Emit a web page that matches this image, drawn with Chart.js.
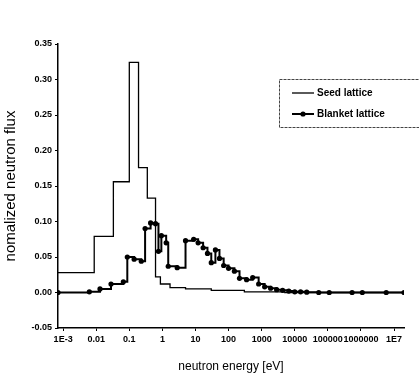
<!DOCTYPE html>
<html lang="en">
<head>
<meta charset="UTF-8" />
<title>Neutron flux spectrum</title>
<script src="https://cdn.jsdelivr.net/npm/chart.js"></script>
<style>
    html, body {
        margin: 0;
        padding: 0;
        background: #fff;
    }
</style>
</head>
<body>

<canvas id="fluxChart" width="419" height="382"></canvas>

<script>
    // energy (eV) where each step starts, and the flux held on that step
    const seedEnergy = [7e-4, 0.0087, 0.033, 0.1, 0.19, 0.35, 0.62, 0.87, 1.7, 5, 30, 300, 5000, 2e7];
    const seedFlux   = [0.028, 0.079, 0.156, 0.324, 0.176, 0.133, 0.022, 0.012, 0.007, 0.005, 0.003, 0.001, 0, 0];

    const blanketEnergy = [7e-4, 0.0062, 0.013, 0.028, 0.066, 0.087, 0.14, 0.23, 0.30, 0.44, 0.62, 0.76, 0.93, 1.3, 1.5,
                           2.8, 5.0, 8.8, 12, 17, 23, 30, 40, 53, 71, 100, 150, 214, 350, 535, 810, 1230, 1860, 2830,
                           4300, 6600, 1e4, 1.5e4, 2.3e4, 5.3e4, 1.1e5, 5.4e5, 1.1e6, 5.8e6, 2e7];
    const blanketFlux   = [0, 0.001, 0.005, 0.012, 0.015, 0.05, 0.047, 0.044, 0.09, 0.098, 0.097, 0.058, 0.08, 0.07, 0.037,
                           0.035, 0.073, 0.075, 0.07, 0.063, 0.055, 0.042, 0.06, 0.048, 0.038, 0.034, 0.03, 0.02, 0.018, 0.021,
                           0.012, 0.008, 0.006, 0.004, 0.003, 0.002, 0.001, 0.001, 0.0005, 0, 0, 0, 0, 0, 0];

    const seriesNames = ['Seed lattice', 'Blanket lattice'];
    const xTickValues = [1e-3, 1e-2, 1e-1, 1, 10, 100, 1e3, 1e4, 1e5, 1e6, 1e7];
    const xTickLabels = ['1E-3', '0.01', '0.1', '1', '10', '100', '1000', '10000', '100000', '1000000', '1E7'];

    const FONT = '"Liberation Sans", Arial, sans-serif';

    function toPoints(xs, ys) {
        return xs.map((x, i) => ({ x: x, y: ys[i] }));
    }

    // boxed legend sitting inside the plot, top right
    const boxLegend = {
        id: 'boxLegend',
        afterDraw(chart) {
            const ctx = chart.ctx;
            ctx.save();
            ctx.strokeStyle = '#444';
            ctx.lineWidth = 1;
            ctx.setLineDash([3, 1]);
            ctx.strokeRect(279.5, 79.5, 150, 48);
            ctx.setLineDash([]);
            chart.data.datasets.forEach((ds, i) => {
                const y = 93 + i * 21;
                ctx.strokeStyle = '#000';
                ctx.fillStyle = '#000';
                ctx.lineWidth = ds.borderWidth;
                ctx.beginPath();
                ctx.moveTo(292, y);
                ctx.lineTo(314, y);
                ctx.stroke();
                if (ds.pointRadius) {
                    ctx.beginPath();
                    ctx.arc(303, y, ds.pointRadius, 0, Math.PI * 2);
                    ctx.fill();
                }
                ctx.font = 'bold 10px ' + FONT;
                ctx.textBaseline = 'middle';
                ctx.fillText(ds.label, 317, y);
            });
            ctx.restore();
        }
    };

    new Chart(document.getElementById('fluxChart'), {
        type: 'line',
        data: {
            datasets: [{
                label: seriesNames[0],
                data: toPoints(seedEnergy, seedFlux),
                stepped: 'before', // chart.js 'before' = value holds until the next point
                borderColor: '#000',
                borderWidth: 1.3,
                pointRadius: 0
            }, {
                label: seriesNames[1],
                data: toPoints(blanketEnergy, blanketFlux),
                stepped: 'before',
                borderColor: '#000',
                borderWidth: 2,
                pointRadius: 2.6,
                pointBackgroundColor: '#000',
                pointBorderColor: '#000',
                pointBorderWidth: 0
            }]
        },
        options: {
            responsive: false,
            animation: false,
            devicePixelRatio: 1,
            layout: { padding: { left: 2, right: 15, top: 44, bottom: 0 } },
            plugins: {
                legend: { display: false },
                tooltip: { enabled: false }
            },
            scales: {
                x: {
                    type: 'logarithmic',
                    min: 7e-4,
                    max: 2e7,
                    afterBuildTicks: s => { s.ticks = xTickValues.map(v => ({ value: v })); },
                    afterFit: s => { s.height = 54; },
                    border: { color: '#000', width: 1.5 },
                    grid: { drawOnChartArea: false, color: '#000', tickLength: 3 },
                    ticks: {
                        color: '#000',
                        font: { family: FONT, size: 9, weight: 'bold' },
                        maxRotation: 0,
                        autoSkip: false,
                        padding: 3,
                        callback: v => {
                            const i = xTickValues.indexOf(v);
                            return i >= 0 ? xTickLabels[i] : '';
                        }
                    },
                    title: {
                        display: true,
                        text: 'neutron energy [eV]',
                        color: '#000',
                        font: { family: FONT, size: 12 },
                        padding: { top: 0, bottom: 8 }
                    }
                },
                y: {
                    min: -0.05,
                    max: 0.35,
                    afterFit: s => { s.width = 56; },
                    border: { color: '#000', width: 1.5 },
                    grid: { drawOnChartArea: false, color: '#000', tickLength: 3 },
                    ticks: {
                        stepSize: 0.05,
                        color: '#000',
                        font: { family: FONT, size: 9, weight: 'bold' },
                        padding: 3,
                        callback: v => (Math.abs(v) < 1e-9 ? 0 : v).toFixed(2)
                    },
                    title: {
                        display: true,
                        text: 'nomalized neutron flux',
                        color: '#000',
                        font: { family: FONT, size: 15 },
                        padding: { top: 0, bottom: 0 }
                    }
                }
            }
        },
        plugins: [boxLegend]
    });
</script>

</body>
</html>
